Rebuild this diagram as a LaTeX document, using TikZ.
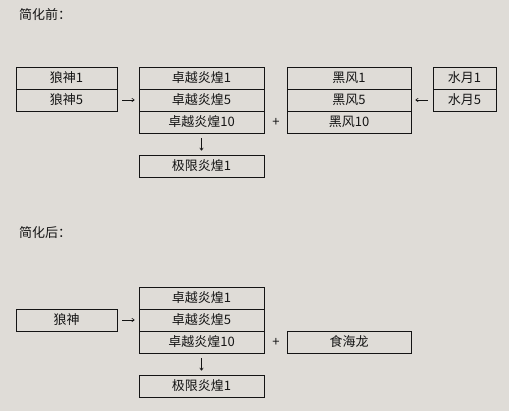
\documentclass[tikz,border=0pt]{standalone}
\usepackage{fontspec}
\newfontfamily\cjk{Noto Sans CJK SC}
\usetikzlibrary{arrows.meta}
\definecolor{bg}{RGB}{223,220,215}
\definecolor{ink}{RGB}{20,20,20}
\tikzset{
  cell/.style={draw=ink, line width=0.8pt, minimum height=22pt, inner sep=0pt, font=\cjk\fontsize{13}{13}\selectfont, text=ink},
  title/.style={anchor=west, inner sep=0pt, font=\cjk\fontsize{13}{13}\selectfont, text=ink},
  sym/.style={inner sep=0pt, font=\cjk\fontsize{13}{13}\selectfont, text=ink},
  link/.style={draw=ink, line width=0.6pt, -{To[length=3pt,width=4pt]}, shorten <=5pt, shorten >=4pt}
}
\begin{document}
\begin{tikzpicture}[x=1pt,y=-1pt]
\fill[bg] (0,0) rectangle (509,411);
\useasboundingbox (0,0) rectangle (509,411);

% ---------- before ----------
\node[title] (t1) at (19,15) {简化前：};

\node[cell, minimum width=101pt] (ls1) at (66.5,78) {狼神1};
\node[cell, minimum width=101pt] (ls5) at (66.5,100) {狼神5};

\node[cell, minimum width=125pt] (zy1) at (201.5,78) {卓越炎煌1};
\node[cell, minimum width=125pt] (zy5) at (201.5,100) {卓越炎煌5};
\node[cell, minimum width=125pt] (zy10) at (201.5,122) {卓越炎煌10};

\node[cell, minimum width=125pt] (jx) at (201.5,166) {极限炎煌1};

\node[cell, minimum width=124pt] (hf1) at (349,78) {黑风1};
\node[cell, minimum width=124pt] (hf5) at (349,100) {黑风5};
\node[cell, minimum width=124pt] (hf10) at (349,122) {黑风10};

\node[cell, minimum width=63pt] (sy1) at (464.5,78) {水月1};
\node[cell, minimum width=63pt] (sy5) at (464.5,100) {水月5};

\node[sym] (p1) at (276,122) {+};

\draw[link] (ls5.east) -- (zy5.west);
\draw[link] (sy5.west) -- (hf5.east);
\draw[link] (zy10.south) -- (jx.north);

% ---------- after ----------
\node[title] (t2) at (19,233) {简化后：};

\node[cell, minimum width=101pt] (ls) at (66.5,320) {狼神};

\node[cell, minimum width=125pt] (bzy1) at (201.5,298) {卓越炎煌1};
\node[cell, minimum width=125pt] (bzy5) at (201.5,320) {卓越炎煌5};
\node[cell, minimum width=125pt] (bzy10) at (201.5,342) {卓越炎煌10};

\node[cell, minimum width=125pt] (bjx) at (201.5,386) {极限炎煌1};

\node[cell, minimum width=124pt] (shl) at (349,342) {食海龙};

\node[sym] (p2) at (276,342) {+};

\draw[link] (ls.east) -- (bzy5.west);
\draw[link] (bzy10.south) -- (bjx.north);
\end{tikzpicture}
\end{document}
